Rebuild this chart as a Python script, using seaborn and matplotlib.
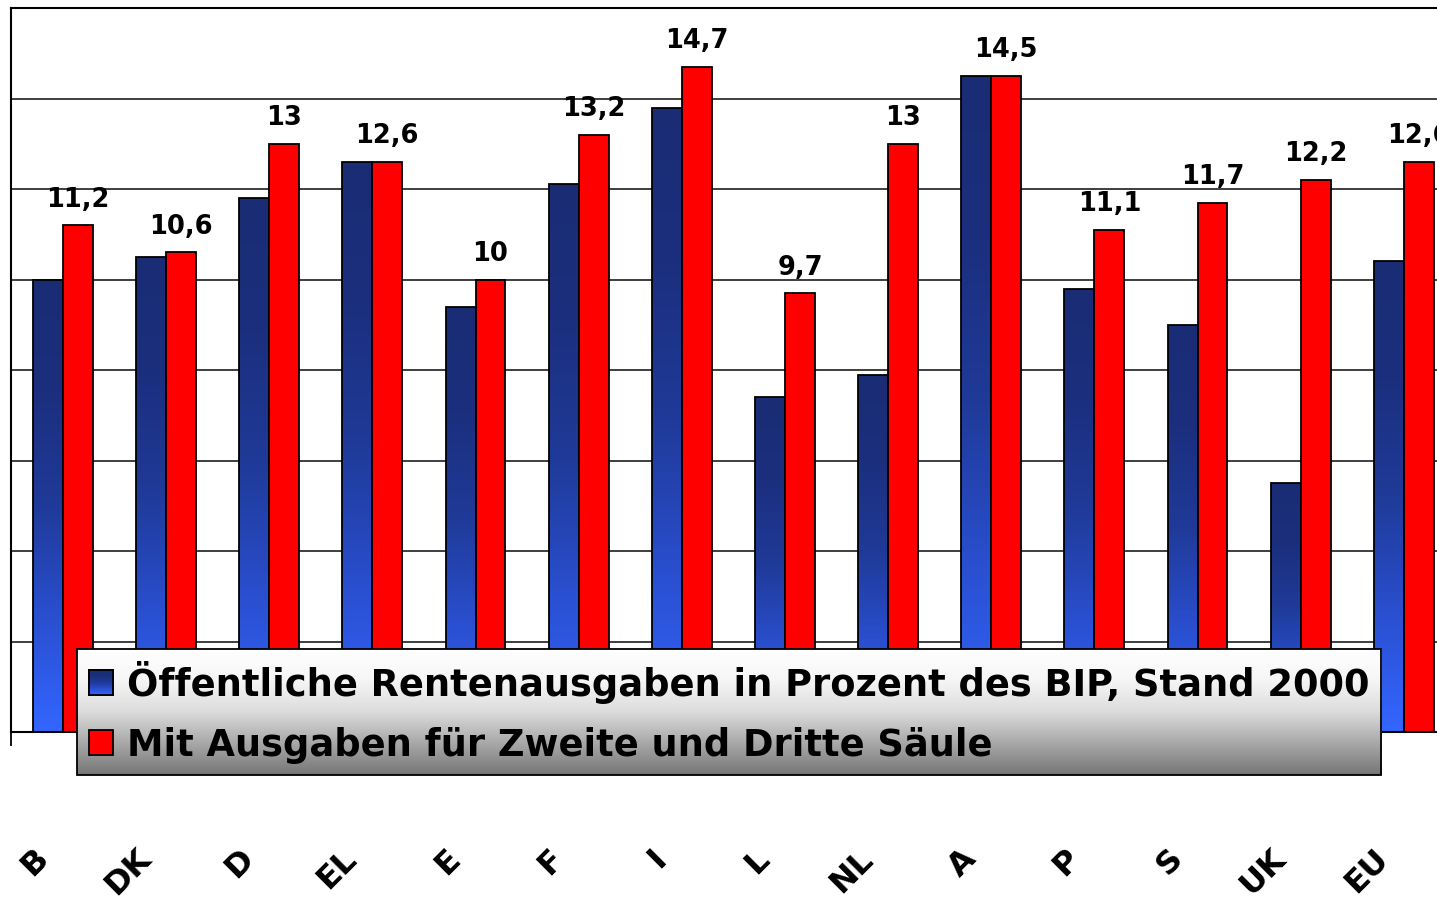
import numpy as np
import pandas as pd
import seaborn as sns
import matplotlib.pyplot as plt
from matplotlib.colors import LinearSegmentedColormap
from matplotlib.patches import Patch
from matplotlib.transforms import ScaledTranslation

countries = ['B', 'DK', 'D', 'EL', 'E', 'F', 'I', 'L', 'NL', 'A', 'P', 'S', 'UK', 'EU']
public = [10.0, 10.5, 11.8, 12.6, 9.4, 12.1, 13.8, 7.4, 7.9, 14.5, 9.8, 9.0, 5.5, 10.4]
with_pillars = [11.2, 10.6, 13.0, 12.6, 10.0, 13.2, 14.7, 9.7, 13.0, 14.5, 11.1, 11.7, 12.2, 12.6]
series = ['Öffentliche Rentenausgaben in Prozent des BIP, Stand 2000',
          'Mit Ausgaben für Zweite und Dritte Säule']

df = pd.DataFrame({
    'land': countries * 2,
    'wert': public + with_pillars,
    'serie': [series[0]] * len(countries) + [series[1]] * len(countries),
})

sns.set_style('white')
plt.rcParams['font.family'] = ['DejaVu Sans']
plt.rcParams['font.weight'] = 'bold'
plt.rcParams['text.color'] = 'black'
plt.rcParams['xtick.color'] = 'black'
plt.rcParams['xtick.labelcolor'] = 'black'

W, H = 1437, 901
fig = plt.figure(figsize=(W / 100, H / 100), dpi=100)
ax = fig.add_axes([11.4 / W, 1 - 732 / H, 1444 / W, 724 / H])

sns.barplot(data=df, x='land', y='wert', hue='serie', hue_order=series,
            palette=['#2444b8', '#ff0000'], width=0.58, edgecolor='black',
            linewidth=1.3, saturation=1, errorbar=None, legend=False, ax=ax)

# blue bars: dark navy at the top, bright blue at the bottom
grad = np.linspace(0, 1, 256).reshape(-1, 1)
blues = LinearSegmentedColormap.from_list(
    'blues', ['#3366ff', '#2a4fd0', '#1f3a98', '#1b2f7e', '#1a2c74'])
for bar in ax.containers[0]:
    x0, w, h = bar.get_x(), bar.get_width(), bar.get_height()
    im = ax.imshow(grad, cmap=blues, origin='lower', aspect='auto',
                   extent=[x0, x0 + w, 0, h], zorder=bar.get_zorder() - 0.01)
    im.set_clip_path(bar)
    bar.set_facecolor('none')

ax.bar_label(ax.containers[1],
             labels=[f'{v:g}'.replace('.', ',') for v in with_pillars],
             padding=9, fontsize=18.5, fontweight='bold', color='black')

ax.set_xlim(-0.5, len(countries) - 0.5)
ax.set_ylim(0, 16)
ax.set_yticks(np.arange(0, 17, 2))
ax.set_yticklabels([])
ax.grid(axis='y', color='#1e1e1e', linewidth=1.2)
ax.grid(axis='x', visible=False)
ax.set_axisbelow(True)
ax.set_xlabel('')
ax.set_ylabel('')
ax.set_xticks(range(len(countries)))
ax.set_xticklabels(countries, rotation=45, ha='right', va='center',
                   rotation_mode='anchor', fontsize=23, fontweight='bold')
ax.set_xticks(np.arange(-0.5, len(countries), 1), minor=True)
ax.tick_params(axis='x', which='major', length=0, pad=88)
ax.tick_params(axis='x', which='minor', length=10, width=1.3, color='black',
               direction='out', bottom=True)
ax.tick_params(axis='y', length=0)
for s in ax.spines.values():
    s.set_color('black')
    s.set_linewidth(1.5)

shift = ScaledTranslation(-20 / 100, 0, fig.dpi_scale_trans)
for lab in ax.get_xticklabels():
    lab.set_transform(lab.get_transform() + shift)

handles = [Patch(facecolor='#2444b8', edgecolor='black', linewidth=1.3),
           Patch(facecolor='#ff0000', edgecolor='black', linewidth=1.3)]
leg = fig.legend(handles, series, loc='upper left',
                 bbox_to_anchor=(77 / W, 1 - 649 / H), borderaxespad=0,
                 frameon=True, fancybox=False, edgecolor='black',
                 facecolor='none', framealpha=1, labelcolor='black',
                 prop={'size': 26.5, 'weight': 'bold'},
                 handlelength=0.66, handleheight=0.66, handletextpad=0.38,
                 labelspacing=0.62, borderpad=0.32)
leg.get_frame().set_linewidth(1.3)

fig.canvas.draw()
inv = fig.transFigure.inverted()

# grey gradient behind the legend
greys = LinearSegmentedColormap.from_list(
    'greys', ['#767676', '#a8a8a8', '#dcdcdc', '#f6f6f6', '#ffffff'])
bb = leg.get_frame().get_window_extent().transformed(inv)
bg = fig.add_axes(bb.bounds, zorder=4)
bg.imshow(grad, cmap=greys, origin='lower', aspect='auto')
bg.set_axis_off()

# gradient on the blue legend key
hb = leg.legend_handles[0].get_window_extent().transformed(inv)
hk = fig.add_axes(hb.bounds, zorder=6)
hk.imshow(grad, cmap=blues, origin='lower', aspect='auto')
hk.set_xticks([])
hk.set_yticks([])
for s in hk.spines.values():
    s.set_color('black')
    s.set_linewidth(1.3)

fig.savefig('out.png', dpi=100)
